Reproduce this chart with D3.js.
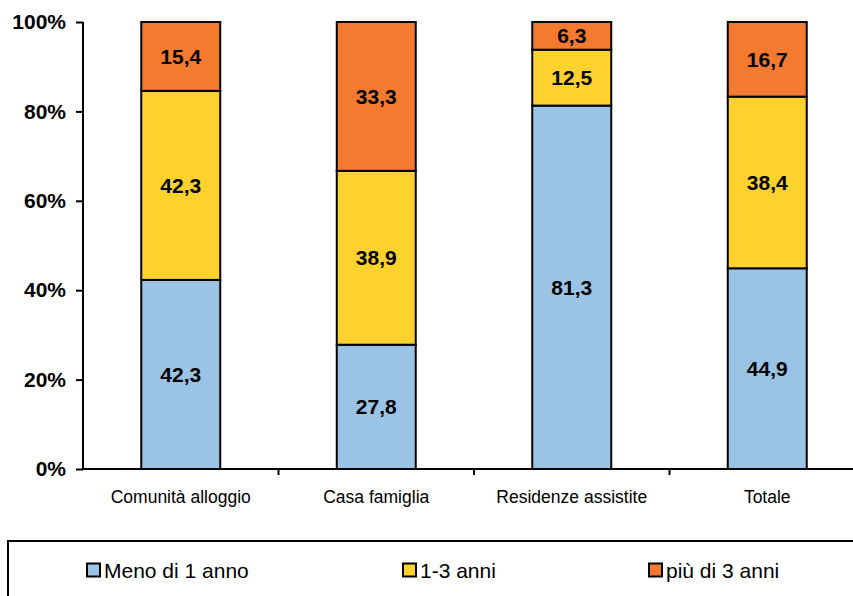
<!DOCTYPE html>
<html>
<head>
<meta charset="utf-8">
<script src="https://cdn.jsdelivr.net/npm/d3@7"></script>
<style>
  body { margin: 0; background: #fff; }
  svg { display: block; font-family: "Liberation Sans", Arial, sans-serif; }
</style>
</head>
<body>
<svg id="chart" width="853" height="596"></svg>
<script>
// Categories and series (percent values)
const categories = ["Comunità alloggio", "Casa famiglia", "Residenze assistite", "Totale"]
const menoDi1Anno = [42.3, 27.8, 81.3, 44.9]
const da1a3Anni = [42.3, 38.9, 12.5, 38.4]
const piuDi3Anni = [15.4, 33.3, 6.3, 16.7]
const seriesNames = ["Meno di 1 anno", "1-3 anni", "più di 3 anni"]
const yTicks = [0, 20, 40, 60, 80, 100]

const colors = ["#9BC3E6", "#FDD12E", "#F47A30"]

const svg = d3.select("#chart")

// plot area
const plotLeft = 83, plotTop = 22, plotBottom = 469, plotRight = 865

const x = d3.scaleBand()
  .domain(categories)
  .range([plotLeft, plotRight])
  .paddingInner(0.596)
  .paddingOuter(0.298)

const y = d3.scaleLinear()
  .domain([0, 100])
  .range([plotBottom, plotTop])
  .clamp(true)

// build stacked rows
const rows = categories.map((c, i) => ({
  cat: c,
  s0: menoDi1Anno[i],
  s1: da1a3Anni[i],
  s2: piuDi3Anni[i]
}))
const stack = d3.stack().keys(["s0", "s1", "s2"])(rows)

const layers = svg.append("g")
  .selectAll("g")
  .data(stack)
  .join("g")
  .attr("fill", (d, i) => colors[i])

layers.selectAll("rect")
  .data(d => d)
  .join("rect")
  .attr("x", d => x(d.data.cat))
  .attr("width", x.bandwidth())
  .attr("y", d => y(d[1]))
  .attr("height", d => y(d[0]) - y(d[1]))
  .attr("stroke", "#000")
  .attr("stroke-width", 2)

// value labels
layers.selectAll("text")
  .data(d => d.map(v => ({ v, key: d.key })))
  .join("text")
  .attr("x", d => x(d.v.data.cat) + x.bandwidth() / 2)
  .attr("y", d => (y(d.v[0]) + y(d.v[1])) / 2)
  .attr("text-anchor", "middle")
  .attr("dominant-baseline", "central")
  .attr("font-size", "21px")
  .attr("font-weight", "bold")
  .attr("fill", "#000")
  .text(d => d3.format(".1f")(d.v.data[d.key]).replace(".", ","))

// y axis
const yAxis = svg.append("g")
  .attr("transform", `translate(${plotLeft},0)`)
  .call(d3.axisLeft(y).tickValues(yTicks).tickSize(7).tickPadding(10).tickFormat(d => d + "%"))
yAxis.select(".domain").attr("stroke", "#000").attr("stroke-width", 2).attr("d", `M0,${plotTop}V${plotBottom}`)
yAxis.selectAll(".tick line").attr("stroke", "#000").attr("stroke-width", 2)
yAxis.selectAll(".tick text")
  .attr("font-size", "21px")
  .attr("font-weight", "bold")
  .attr("font-family", "Liberation Sans, Arial, sans-serif")
  .attr("fill", "#000")

// x axis
const xAxis = svg.append("g")
svg.append("line")
  .attr("x1", plotLeft).attr("x2", 853)
  .attr("y1", plotBottom).attr("y2", plotBottom)
  .attr("stroke", "#000").attr("stroke-width", 2)
xAxis.selectAll("line")
  .data(d3.range(1, categories.length + 1))
  .join("line")
  .attr("x1", i => plotLeft + i * x.step())
  .attr("x2", i => plotLeft + i * x.step())
  .attr("y1", plotBottom).attr("y2", plotBottom + 6)
  .attr("stroke", "#000").attr("stroke-width", 2)
xAxis.selectAll("text")
  .data(categories)
  .join("text")
  .attr("x", d => x(d) + x.bandwidth() / 2)
  .attr("y", 503)
  .attr("text-anchor", "middle")
  .attr("font-size", "17.5px")
  .attr("fill", "#000")
  .text(d => d)

// legend
svg.append("rect")
  .attr("x", 8).attr("y", 541)
  .attr("width", 900).attr("height", 100)
  .attr("fill", "none")
  .attr("stroke", "#000").attr("stroke-width", 2)

const legendX = [87, 403, 649]
const legend = svg.append("g")
  .selectAll("g")
  .data(seriesNames)
  .join("g")
  .attr("transform", (d, i) => `translate(${legendX[i]},570)`)
legend.append("rect")
  .attr("x", 0).attr("y", -6.5)
  .attr("width", 13).attr("height", 13)
  .attr("fill", (d, i) => colors[i])
  .attr("stroke", "#000").attr("stroke-width", 2)
legend.append("text")
  .attr("x", 17)
  .attr("y", 0)
  .attr("dominant-baseline", "central")
  .attr("font-size", "21px")
  .attr("fill", "#000")
  .text(d => d)
</script>
</body>
</html>
